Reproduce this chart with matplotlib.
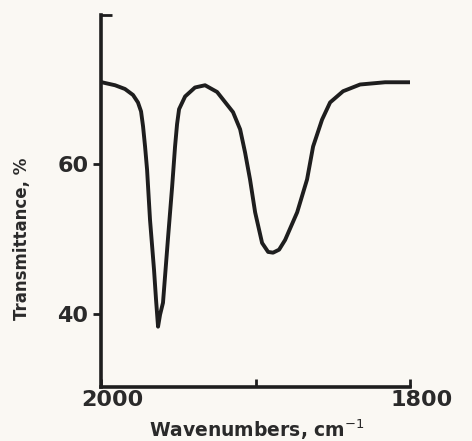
import numpy as np
import matplotlib.pyplot as plt
import matplotlib.transforms as mtransforms

# IR spectrum
wavenumber = [1999.4, 1997.4, 1990.9, 1984.5, 1979.3, 1976.1, 1974.1, 1972.8,
              1971.5, 1970.2, 1968.3, 1965.7, 1964.4, 1963.1, 1961.8, 1959.9,
              1956.6, 1954.0, 1952.1, 1950.8, 1949.5, 1945.6, 1939.2, 1932.7,
              1924.9, 1914.6, 1910.0, 1906.8, 1903.6, 1900.3, 1895.8, 1891.9,
              1888.7, 1884.8, 1880.9, 1873.1, 1866.7, 1862.8, 1857.0, 1851.8,
              1843.4, 1832.4, 1816.2, 1800.0]
transmittance = [71.0, 70.9, 70.6, 70.1, 69.3, 68.3, 67.1, 65.1,
                 62.4, 59.3, 52.6, 45.9, 41.9, 38.3, 39.9, 41.5,
                 50.3, 57.0, 62.4, 65.4, 67.4, 69.1, 70.3, 70.6,
                 69.7, 67.0, 64.7, 61.6, 58.0, 53.6, 49.5, 48.3,
                 48.2, 48.6, 49.9, 53.6, 58.0, 62.4, 66.0, 68.3,
                 69.8, 70.7, 71.0, 71.0]

xticks = [2000, 1900, 1800]
xticklabels = ['2000', '', '1800']
yticks = [40, 60]

bg = '#faf8f3'
ink = '#1e1e1e'
txt = '#2a2a2a'

fig = plt.figure(figsize=(4.72, 4.41), dpi=100, facecolor=bg)
ax = fig.add_axes([0.214, 0.122, 0.655, 0.844], facecolor=bg)

ax.plot(wavenumber, transmittance, color=ink, lw=2.8,
        solid_capstyle='round', solid_joinstyle='round')

ax.set_xlim(2000, 1800)
ax.set_ylim(30.2, 80)

for s in ['top', 'right']:
    ax.spines[s].set_visible(False)
for s in ['left', 'bottom']:
    ax.spines[s].set_linewidth(2.6)
    ax.spines[s].set_color(ink)

ax.set_xticks(xticks)
ax.set_xticklabels(xticklabels, fontsize=16, fontweight='bold', color=txt)
ax.tick_params(axis='x', direction='in', length=6, width=2, colors=ink, pad=2)
offset = mtransforms.ScaledTranslation(11 / 100, 0, fig.dpi_scale_trans)
for lab in ax.get_xticklabels():
    lab.set_transform(lab.get_transform() + offset)
    lab.set_color(txt)

ax.set_yticks(yticks)
ax.set_yticklabels([str(v) for v in yticks], fontsize=16, fontweight='bold', color=txt)
ax.tick_params(axis='y', direction='out', length=6, width=2, colors=ink, pad=3)
for lab in ax.get_yticklabels():
    lab.set_color(txt)
ax.set_yticks([80], minor=True)
ax.tick_params(axis='y', which='minor', direction='in', length=8, width=2,
               colors=ink, labelleft=False)

ax.set_xlabel('Wavenumbers, cm$^{-1}$', fontsize=13.5, fontweight='bold', color=txt)
ax.xaxis.set_label_coords(0.505, -0.082)
ax.set_ylabel('Transmittance, %', fontsize=12, fontweight='bold', color=txt)
ax.yaxis.set_label_coords(-0.225, 0.40)

fig.savefig('out.png', dpi=100, facecolor=bg)
